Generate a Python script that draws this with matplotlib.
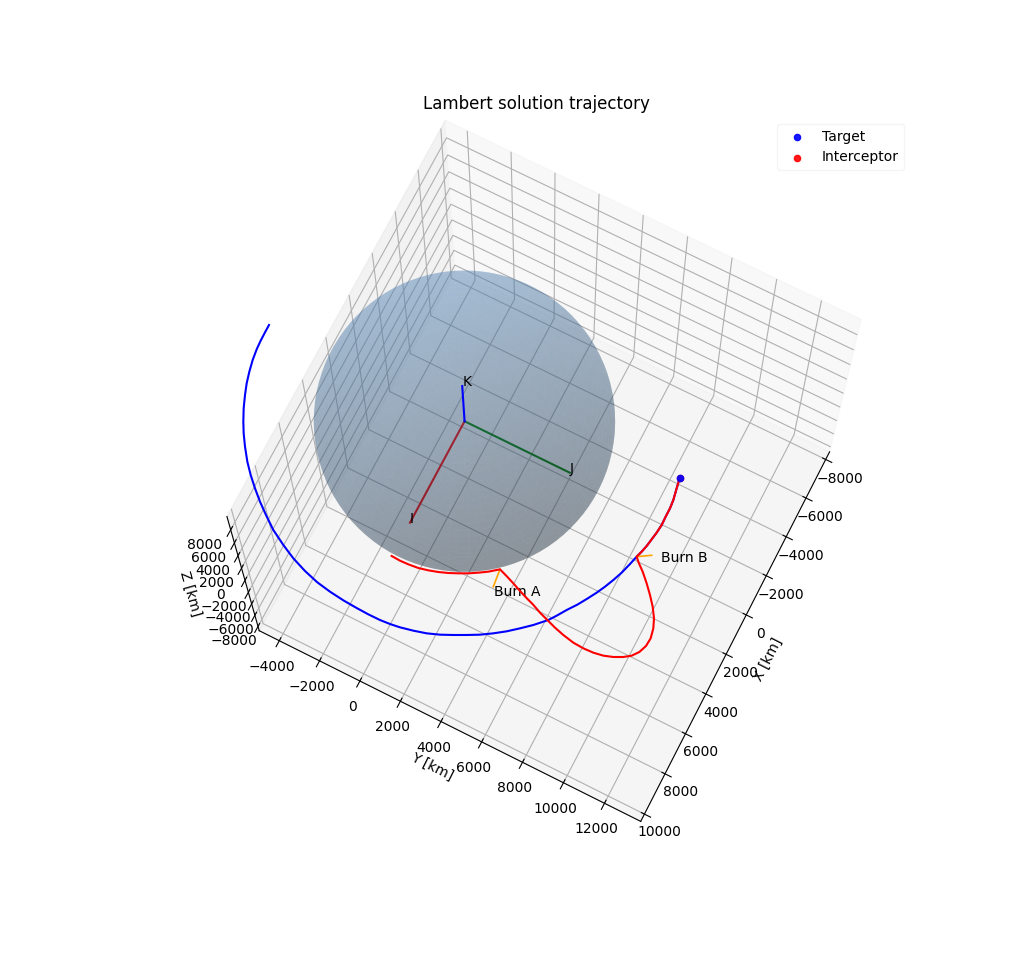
import numpy as np
import matplotlib
matplotlib.use('Agg')
import matplotlib.pyplot as plt

R_earth = 6378
axis_len = 5000

# Orbita del objetivo [km]
target_x = [62, 429, 841, 1260, 1756, 2278, 2787, 3275, 3822, 4348, 4795, 5287, 5824, 6276, 6708, 7127,
            7526, 7962, 8347, 8668, 8930, 9129, 9245, 9322, 9362, 9382, 9377, 9340, 9277, 9152, 9001, 8800,
            8560, 8308, 8044, 7741, 7412, 7046, 6666, 6191, 5868, 5461, 5050, 4647, 4227, 3838, 3423, 2982, 2488,
            2078, 1789, 1474, 1120, 766, 373, -28, -436, -825, -1241, -1599, -1794]
target_y = [-9329, -9326, -9315, -9284, -9211, -9092, -8948, -8767, -8538, -8272, -8017, -7689, -7290, -6889,
            -6451, -5989, -5490, -4909, -4229, -3584, -2892, -2203, -1544, -873, -224, 336, 883, 1334, 1771,
            2332, 2880, 3401, 3902, 4397, 4885, 5353, 5809, 6245, 6675, 7135, 7360, 7621, 7916, 8160, 8399,
            8593, 8774, 8942, 9084, 9190, 9279, 9356, 9413, 9470, 9508, 9495, 9495, 9458, 9375, 9307, 9272]
orbit_z = 330

# Interceptor: parking, transfer, after burn B
inter_x = [6709, 6730, 6712, 6663, 6563, 6437, 6285, 6108, 5918, 5703, 5475, 5163, 5306, 5448, 5616, 5771,
           5888, 6068, 6210, 6358, 6481, 6585, 6612, 6589, 6514, 6376, 6188, 5980, 5695, 5339, 4958, 4524,
           4128, 3704, 3306, 2919, 2544, 2272, 2078, 1789, 1474, 1120, 766, 373, -28, -436, -825, -1241,
           -1599, -1794]
inter_y = [37, 441, 826, 1272, 1691, 2097, 2489, 2869, 3241, 3601, 3953, 4342, 4744, 5113, 5514, 5921,
           6262, 6682, 7097, 7531, 7983, 8503, 8983, 9437, 9866, 10262, 10632, 10915, 11129, 11261, 11287, 11194,
           11027, 10753, 10429, 10079, 9705, 9381, 9190, 9279, 9356, 9413, 9470, 9508, 9495, 9495, 9458, 9375,
           9307, 9272]

burn_a = (5163, 4342)
burn_a_tip = (5958, 4435)
burn_a_text = (6301, 4645)
burn_b = (2078, 9190)
burn_b_tip = (1739, 9724)
burn_b_text = (1820, 10190)

u = np.linspace(0, 2 * np.pi, 100)
v = np.linspace(0, np.pi, 100)
sx = R_earth * np.outer(np.cos(u), np.sin(v))
sy = R_earth * np.outer(np.sin(u), np.sin(v))
sz = R_earth * np.outer(np.ones_like(u), np.cos(v))

fig = plt.figure(figsize=(10.24, 9.75), dpi=100)
ax = fig.add_subplot(projection='3d')
ax.set_position([0.136, 0.11, 0.775, 0.77])
ax.computed_zorder = False

ax.plot_surface(sx, sy, sz, color='#4f82b5', alpha=0.28, linewidth=0, rstride=2, cstride=2, zorder=2)

# Ejes inerciales
ax.plot([0, axis_len], [0, 0], [0, 0], 'r', zorder=1)
ax.plot([0, 0], [0, axis_len], [0, 0], 'g', zorder=1)
ax.plot([0, 0], [0, 0], [0, axis_len], 'b', zorder=3)
ax.text(axis_len, 0, 0, 'I')
ax.text(0, axis_len, 0, 'J')
ax.text(0, 0, axis_len, 'K')

z_t = np.full(len(target_x), orbit_z)
z_i = np.full(len(inter_x), orbit_z)
ax.plot(target_x, target_y, z_t, 'b', zorder=4)
ax.plot(inter_x, inter_y, z_i, 'r', zorder=5)
ax.plot([burn_a[0], burn_a_tip[0]], [burn_a[1], burn_a_tip[1]], [orbit_z, orbit_z], color='orange', linewidth=1.2, zorder=4)
ax.plot([burn_b[0], burn_b_tip[0]], [burn_b[1], burn_b_tip[1]], [orbit_z, orbit_z], color='orange', linewidth=1.2, zorder=4)
ax.text(burn_a_text[0], burn_a_text[1], orbit_z, 'Burn A')
ax.text(burn_b_text[0], burn_b_text[1], orbit_z, 'Burn B')

ax.scatter(target_x[-1], target_y[-1], orbit_z, color='b', alpha=0.9, label='Target', zorder=7)
ax.scatter(inter_x[-1], inter_y[-1], orbit_z, color='r', alpha=0.9, label='Interceptor', zorder=6)

ax.set_xlim(-8400, 10360)
ax.set_ylim(-5000, 13760)
ax.set_zlim(-8770, 9990)
ax.set_box_aspect((1, 1, 1))
ax.view_init(elev=74, azim=27)
ax.set_xticks(np.arange(-8000, 10001, 2000))
ax.set_yticks(np.arange(-4000, 12001, 2000))
ax.set_zticks(np.arange(-8000, 8001, 2000))
ax.set_xlabel('X [km]')
ax.set_ylabel('Y [km]')
ax.set_zlabel('Z [km]')
ax.set_title('Lambert solution trajectory')
ax.legend(framealpha=0.2)
fig.savefig('out.png')
